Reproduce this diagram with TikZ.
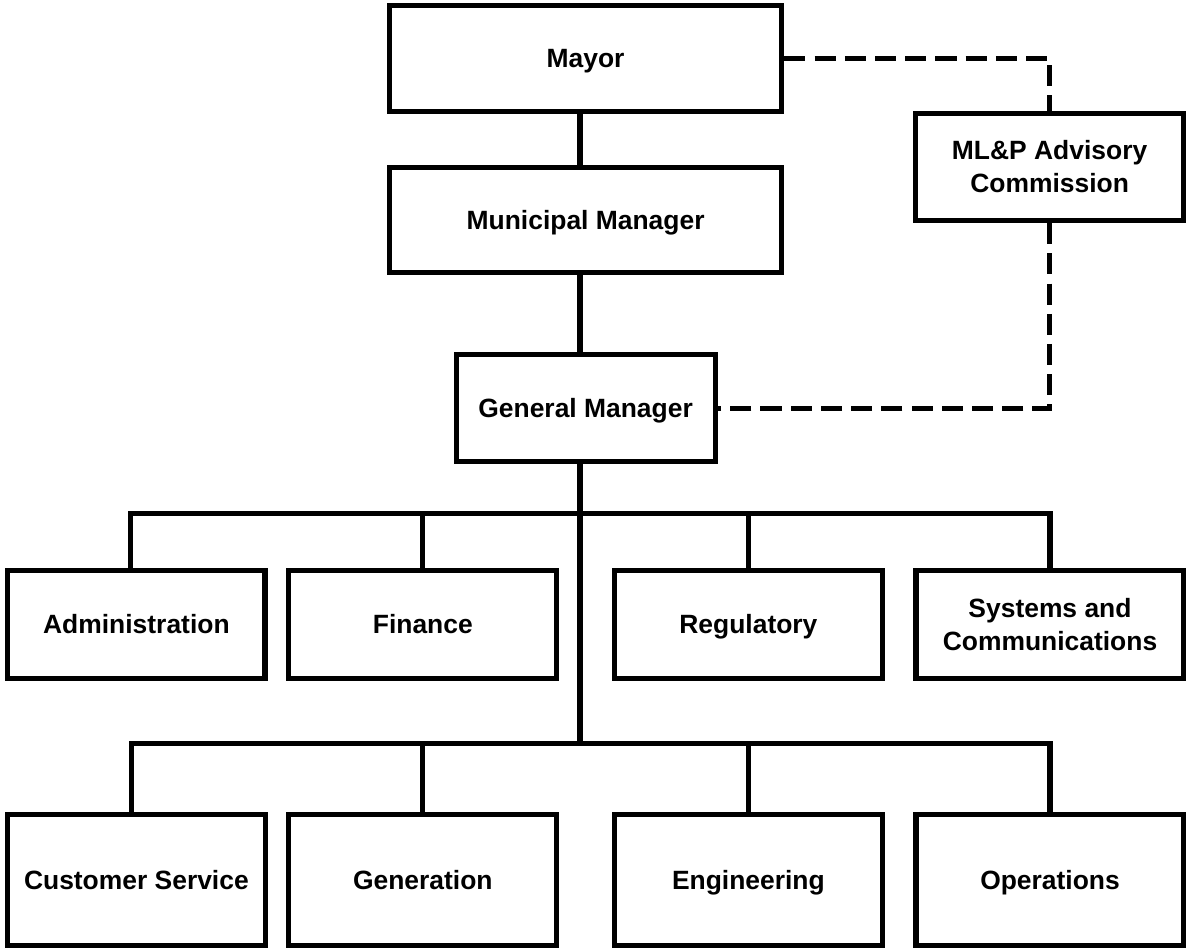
\documentclass[tikz,border=0pt]{standalone}
\usepackage{fontspec}
\setmainfont{Liberation Sans}
\begin{document}
\begin{tikzpicture}

% definitions
\tikzstyle{chartbox} = [rectangle, minimum width=9.81cm, minimum height=2.65cm, text centered, align=center, draw=black, line width=3.6pt, inner sep=0pt, font=\bfseries\fontsize{18.8}{23.5}\selectfont]

\tikzstyle{office} = [chartbox, text height=13.5pt, text depth=0pt]

\tikzstyle{manager} = [office, minimum width=6.475cm, minimum height=2.675cm]

\tikzstyle{advisory} = [chartbox, minimum width=6.71cm, minimum height=2.6875cm]

\tikzstyle{division} = [office, minimum width=6.7cm, minimum height=2.6875cm]

\tikzstyle{section} = [office, minimum width=6.7cm, minimum height=3.275cm]

\tikzstyle{solidlink} = [draw=black, line width=3.6pt]

\tikzstyle{dashlink} = [solidlink, dash pattern=on 15pt off 6.5pt]

\useasboundingbox (0,0) rectangle (29.65,-23.725);

% the chart
\node (mayor) [office] at (14.64,-1.46) {Mayor};

\node (mmgr) [office, below of=mayor, yshift=-3.05cm, minimum height=2.625cm] {Municipal Manager};

\node (gm) [manager, below of=mmgr, yshift=-3.7cm] {General Manager};

\node (adv) [advisory, right of=mayor, xshift=10.6cm, yshift=-2.71cm] {ML\&P Advisory\\Commission};

\node (fin) [division, below of=gm, yshift=-4.4cm, xshift=-4.07cm] {Finance};

\node (reg) [division, below of=gm, yshift=-4.4cm, xshift=4.07cm] {Regulatory};

\node (admin) [division, left of=fin, xshift=-6.16cm, minimum width=6.43cm] {Administration};

\node (sys) [division, right of=reg, xshift=6.54cm, text height=, text depth=] {Systems and\\Communications};

\node (cust) [section, below of=admin, yshift=-5.39cm, minimum width=6.44cm] {Customer Service};

\node (gen) [section, below of=fin, yshift=-5.39cm] {Generation};

\node (eng) [section, below of=reg, yshift=-5.39cm] {Engineering};

\node (ops) [section, below of=sys, yshift=-5.39cm] {Operations};


\draw [solidlink] ([xshift=-0.14cm]mayor.south) -- ([xshift=-0.14cm]mmgr.north);
\draw [solidlink] ([xshift=-0.14cm]mmgr.south) -- ([xshift=-0.14cm]gm.north);
\draw [solidlink] ([xshift=-0.14cm]gm.south) -- ++(0,-7.05);
\draw [solidlink] ([xshift=-0.14cm]admin.north) -- ++(0,1.3625) -| (sys.north);
\draw [solidlink] (fin.north) -- ++(0,1.3625);
\draw [solidlink] (reg.north) -- ++(0,1.3625);
\draw [solidlink] ([xshift=-0.12cm]cust.north) -- ++(0,1.7125) -| (ops.north);
\draw [solidlink] (gen.north) -- ++(0,1.7125);
\draw [solidlink] (eng.north) -- ++(0,1.7125);
\draw [dashlink] (mayor.east) -| (adv.north);
\draw [dashlink] (adv.south) |- (gm.east);

\end{tikzpicture}
\end{document}
